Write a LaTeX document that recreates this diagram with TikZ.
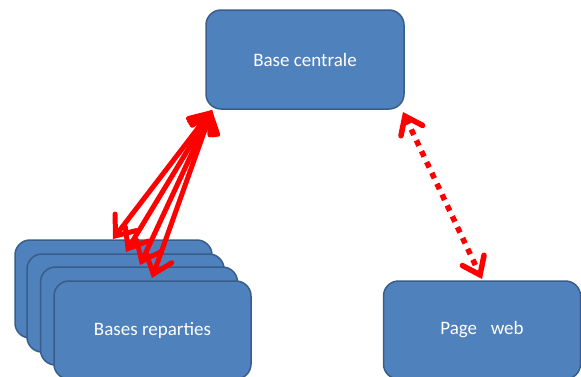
\documentclass[tikz,border=0pt]{standalone}
\usepackage{fontspec}
\setmainfont{Carlito}
\usetikzlibrary{arrows.meta}
\definecolor{boxfill}{HTML}{4F81BD}
\definecolor{boxline}{HTML}{385D8A}
\definecolor{arrred}{HTML}{FF0000}
\begin{document}
\begin{tikzpicture}[x=1pt,y=-1pt,
  blockbox/.style={draw=boxline,line width=1.5pt,fill=boxfill,rounded corners=15pt,
    minimum width=197pt,minimum height=98pt,inner sep=0pt,text=white,
    font=\fontsize{19}{22}\selectfont},
  redarrow/.style={draw=arrred,line width=5pt,line join=round,
    {Straight Barb[length=17pt,width=27pt,line cap=round]}-{Straight Barb[length=17pt,width=27pt,line cap=round]}},
  dotarrow/.style={draw=arrred,line width=5.5pt,dash pattern=on 6pt off 6pt,
    {Straight Barb[length=16pt,width=24pt,line cap=round]}-{Straight Barb[length=16pt,width=24pt,line cap=round]}}]
\useasboundingbox (0,0) rectangle (581,376);
\clip (0,0) rectangle (581,376);
\node[blockbox,minimum width=198pt,minimum height=99pt] (central) at (305,59.5) {Base centrale};
\node[blockbox] (b1) at (113.5,289) {};
\node[blockbox] (b2) at (125.5,303) {};
\node[blockbox] (b3) at (139,316) {};
\node[blockbox] (b4) at (152.5,330) {Bases reparties};
\node[blockbox] (web) at (482,330) {Page\hspace{0.72em}web};
\coordinate (t1) at (113,239);
\coordinate (t2) at (126,252);
\coordinate (t3) at (140,265);
\coordinate (t4) at (152,278);
\coordinate (src) at (212,110);
\draw[redarrow] (src) -- (t1);
\draw[redarrow] (src) -- (t2);
\draw[redarrow] (src) -- (t3);
\draw[redarrow] (src) -- (t4);
\coordinate (w1) at (403,112);
\coordinate (w2) at (482,279);
\draw[dotarrow] (w1) -- (w2);
\end{tikzpicture}
\end{document}
